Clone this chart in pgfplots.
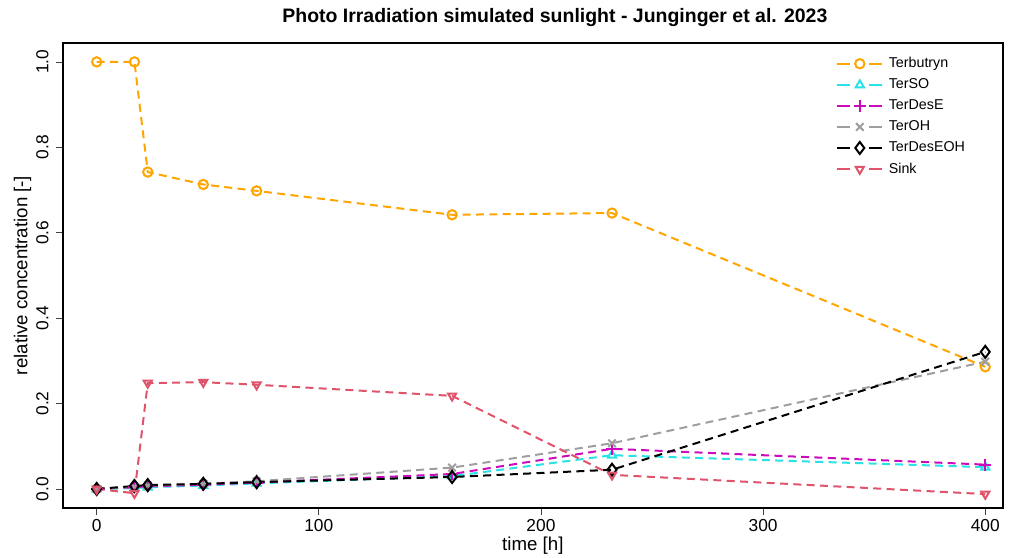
\documentclass[border=0pt]{standalone}
\usepackage{fontspec}
\setmainfont{Liberation Sans}
\usepackage{pgfplots}
\pgfplotsset{compat=1.18}
\definecolor{cTerb}{HTML}{FFA500}
\definecolor{cSO}{HTML}{28E2E5}
\definecolor{cDesE}{HTML}{CD0BBC}
\definecolor{cOH}{HTML}{9E9E9E}
\definecolor{cSink}{HTML}{DF536B}
\begin{document}
\begin{tikzpicture}
\begin{axis}[scale only axis,width=705pt,height=349pt,
xmin=-15.3,xmax=408,ymin=-0.045,ymax=1.045,
axis line style={line width=1.5pt},
tick style={black!75,line width=0.5pt},tick align=outside,major tick length=5pt,
xtick={0,100,200,300,400},ytick={0,0.2,0.4,0.6,0.8,1.0},
xtick pos=bottom,ytick pos=left,
/pgf/number format/assume math mode=true,
yticklabel style={rotate=90,anchor=south,yshift=2pt,/pgf/number format/.cd,fixed,fixed zerofill,precision=1},
ticklabel style={font=\fontsize{13}{15}\selectfont},
xlabel={time [h]},ylabel={relative concentration [-]},
label style={font=\fontsize{14}{16}\selectfont},
xlabel style={at={(0.5,0)},anchor=base,yshift=-32pt},
ylabel style={yshift=-3pt},
title={\textbf{Photo Irradiation simulated sunlight - Junginger et al. 2023}},
title style={font=\fontsize{14.6}{17}\selectfont,at={(0.5,1)},anchor=base,yshift=9pt,xshift=16.5pt},
every axis plot/.append style={line width=1.5pt,dash pattern=on 6pt off 4pt,mark options={solid,fill=white},mark size=3.5pt},
legend style={at={(0.818,0.980)},anchor=north west,draw=none,fill=none,font=\fontsize{10.7}{12}\selectfont,row sep=2.8pt,
  nodes={inner xsep=4pt}},
legend cell align=left,
legend image code/.code={\draw[dash pattern=on 10pt off 14pt] (0pt,0pt)--(34pt,0pt);
  \draw plot coordinates {(17pt,0pt)};},
]
\addplot[cTerb,mark=o] coordinates {(0,1.0) (17,1.0) (23,0.742) (48,0.713) (72,0.698) (160,0.642) (232,0.646) (400,0.286)};
\addlegendentry{Terbutryn}
\addplot[cSO,mark=triangle] coordinates {(0,0) (17,0.002) (23,0.004) (48,0.008) (72,0.013) (160,0.030) (232,0.079) (400,0.051)};
\addlegendentry{TerSO}
\addplot[cDesE,mark=+,mark size=4.5pt] coordinates {(0,0) (17,0.004) (23,0.006) (48,0.010) (72,0.015) (160,0.035) (232,0.094) (400,0.057)};
\addlegendentry{TerDesE}
\addplot[cOH,mark=x,mark size=4pt] coordinates {(0,0) (17,0.005) (23,0.008) (48,0.012) (72,0.018) (160,0.050) (232,0.107) (400,0.298)};
\addlegendentry{TerOH}
\addplot[black,mark=diamond,mark size=4.5pt] coordinates {(0,0) (17,0.007) (23,0.009) (48,0.012) (72,0.016) (160,0.028) (232,0.045) (400,0.321)};
\addlegendentry{TerDesEOH}
\addplot[cSink,mark=triangle,mark options={solid,fill=white,rotate=180}] coordinates {(0,0) (17,-0.010) (23,0.248) (48,0.250) (72,0.244) (160,0.218) (232,0.033) (400,-0.012)};
\addlegendentry{Sink}
\end{axis}
\pgfresetboundingbox
\path[use as bounding box] ([shift={(-47pt,-37pt)}]current axis.south west) rectangle ([shift={(12pt,32pt)}]current axis.north east);
\end{tikzpicture}
\end{document}
